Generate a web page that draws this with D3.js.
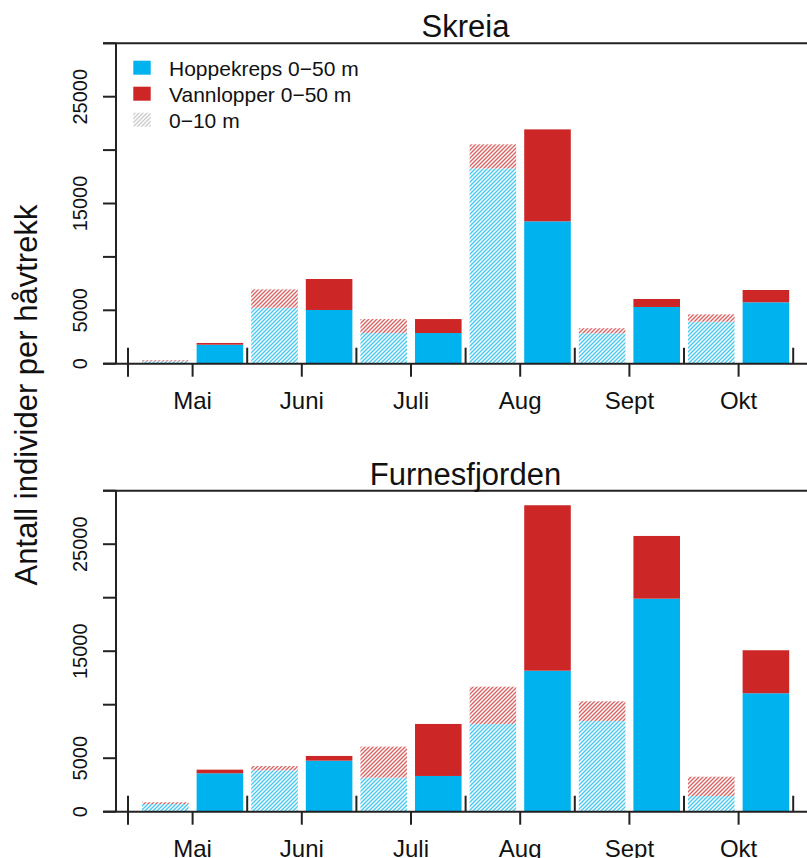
<!DOCTYPE html>
<html>
<head>
<meta charset="utf-8">
<script src="https://cdn.jsdelivr.net/npm/d3@7"></script>
<style>
  html, body { margin: 0; padding: 0; background: #fff; }
  svg { display: block; font-family: "Liberation Sans", Arial, sans-serif; }
</style>
</head>
<body>
<svg id="chart" width="807" height="858"></svg>
<script>
// ---------------- data ----------------
const months = ["Mai", "Juni", "Juli", "Aug", "Sept", "Okt"];
const yTicks = [0, 5000, 10000, 15000, 20000, 25000, 30000];
const yTickLabels = ["0", "5000", "", "15000", "", "25000", ""];

const skreiaHopp010 = [220, 5240, 2870, 18290, 2850, 3930];
const skreiaVann010 = [100, 1720, 1310, 2250, 470, 690];
const skreiaHopp050 = [1780, 5030, 2870, 13330, 5310, 5750];
const skreiaVann050 = [160, 2900, 1310, 8610, 750, 1150];

const furnesHopp010 = [720, 3870, 3180, 8200, 8480, 1470];
const furnesVann010 = [160, 400, 2900, 3480, 1840, 1800];
const furnesHopp050 = [3590, 4770, 3340, 13180, 19910, 11070];
const furnesVann050 = [340, 440, 4860, 15460, 5860, 4020];

const legendLabels = ["Hoppekreps 0\u221250 m", "Vannlopper 0\u221250 m", "0\u221210 m"];
const yTitle = "Antall individer per h\u00e5vtrekk";

// ---------------- style ----------------
const BLUE = "#00b2ee";
const RED = "#cd2626";
const AXIS = "#222";

const svg = d3.select("#chart");
const defs = svg.append("defs");
function hatch(id, color) {
  const p = defs.append("pattern").attr("id", id)
    .attr("patternUnits", "userSpaceOnUse").attr("width", 4).attr("height", 4);
  p.append("rect").attr("width", 4).attr("height", 4).attr("fill", "#fff");
  p.append("path").attr("d", "M-1,1 l2,-2 M0,4 l4,-4 M3,5 l2,-2")
    .attr("stroke", color).attr("stroke-width", 1.4).attr("opacity", 0.72);
}
hatch("hBlue", BLUE);
hatch("hRed", RED);
hatch("hGray", "#b8b8b8");

// ---------------- layout ----------------
const x = d3.scaleBand().domain(d3.range(12)).range([138, 793.2])
  .paddingInner(0.147).paddingOuter(0.0735);
const step = x.step();
const rangeStart = x.range()[0];

const panels = [
  { title: "Skreia", y0: 363.7, y1: 43.3,
    hopp010: skreiaHopp010, vann010: skreiaVann010, hopp050: skreiaHopp050, vann050: skreiaVann050, legend: true },
  { title: "Furnesfjorden", y0: 811.7, y1: 490.7,
    hopp010: furnesHopp010, vann010: furnesVann010, hopp050: furnesHopp050, vann050: furnesVann050, legend: false }
];

panels.forEach(pn => {
  const y = d3.scaleLinear().domain([0, 30000]).range([pn.y0, pn.y1]);
  const g = svg.append("g");

  // bars
  const bars = [];
  months.forEach((m, i) => {
    bars.push({ idx: 2 * i, hopp: pn.hopp010[i], vann: pn.vann010[i], hatched: true });
    bars.push({ idx: 2 * i + 1, hopp: pn.hopp050[i], vann: pn.vann050[i], hatched: false });
  });
  bars.forEach(b => {
    g.append("rect")
      .attr("x", x(b.idx)).attr("width", x.bandwidth())
      .attr("y", y(b.hopp)).attr("height", y(0) - y(b.hopp))
      .attr("fill", b.hatched ? "url(#hBlue)" : BLUE);
    g.append("rect")
      .attr("x", x(b.idx)).attr("width", x.bandwidth())
      .attr("y", y(b.hopp + b.vann)).attr("height", y(b.hopp) - y(b.hopp + b.vann))
      .attr("fill", b.hatched ? "url(#hRed)" : RED);
  });

  // horizontal frame lines (0 and 30000)
  [0, 30000].forEach(v => {
    g.append("line").attr("x1", 103).attr("x2", 807)
      .attr("y1", y(v)).attr("y2", y(v))
      .attr("stroke", AXIS).attr("stroke-width", 2);
  });
  // y axis
  g.append("line").attr("x1", 116).attr("x2", 116)
    .attr("y1", y(30000)).attr("y2", y(0))
    .attr("stroke", AXIS).attr("stroke-width", 2);
  yTicks.forEach((v, i) => {
    g.append("line").attr("x1", 103).attr("x2", 116)
      .attr("y1", y(v)).attr("y2", y(v))
      .attr("stroke", AXIS).attr("stroke-width", 2);
    if (yTickLabels[i]) {
      g.append("text")
        .attr("transform", `translate(87,${y(v)}) rotate(-90)`)
        .attr("text-anchor", "middle")
        .attr("font-size", 20).attr("fill", "#111")
        .text(yTickLabels[i]);
    }
  });

  // x axis: separators (up), month ticks (down)
  for (let k = 0; k <= 6; k++) {
    const xs = k === 0 ? rangeStart - 10 : rangeStart + k * 2 * step;
    g.append("line").attr("x1", xs).attr("x2", xs)
      .attr("y1", y(0) - 16).attr("y2", k === 0 ? y(0) + 13 : y(0))
      .attr("stroke", AXIS).attr("stroke-width", 2);
  }
  months.forEach((m, i) => {
    const xc = rangeStart + (2 * i + 1) * step;
    g.append("line").attr("x1", xc).attr("x2", xc)
      .attr("y1", y(0)).attr("y2", y(0) + 13)
      .attr("stroke", AXIS).attr("stroke-width", 2);
    g.append("text").attr("x", xc).attr("y", y(0) + 45.6)
      .attr("text-anchor", "middle").attr("font-size", 24).attr("fill", "#111")
      .text(m);
  });

  // title
  g.append("text").attr("x", 465.5).attr("y", y(30000) - 6)
    .attr("text-anchor", "middle").attr("font-size", 31).attr("fill", "#111")
    .text(pn.title);

  // legend
  if (pn.legend) {
    const fills = [BLUE, RED, "url(#hGray)"];
    legendLabels.forEach((lab, i) => {
      const cy = 67.7 + i * 26;
      g.append("rect").attr("x", 133.3).attr("y", cy - 7).attr("width", 17.4).attr("height", 14)
        .attr("fill", fills[i]);
      g.append("text").attr("x", 169).attr("y", cy + 8)
        .attr("font-size", 21).attr("fill", "#111").text(lab);
    });
  }
});

// y axis title
svg.append("text")
  .attr("transform", "translate(36.5,395) rotate(-90)")
  .attr("text-anchor", "middle").attr("font-size", 31).attr("fill", "#111")
  .text(yTitle);
</script>
</body>
</html>
